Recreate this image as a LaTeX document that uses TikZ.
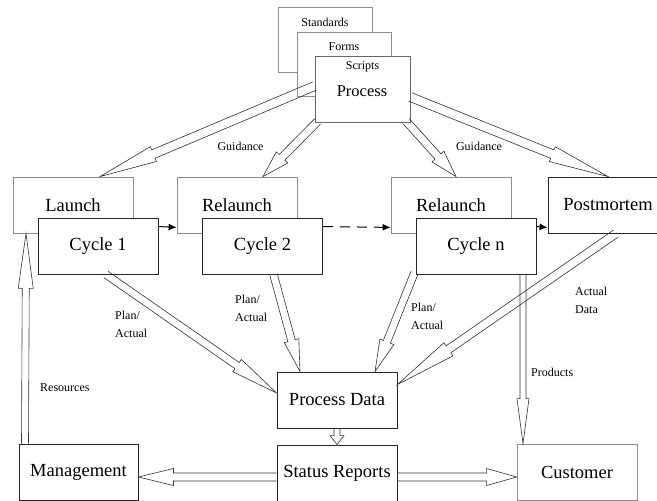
\documentclass[tikz,border=0pt]{standalone}
\usepackage{fontspec}
\setmainfont{Liberation Serif}
\usetikzlibrary{calc,arrows.meta}
\tikzset{
  lightbox/.style={draw=black!45, line width=0.8pt, fill=white, inner sep=0pt,
    minimum width=120pt, minimum height=56pt, font=\fontsize{18.5}{20}\selectfont},
  darkbox/.style={lightbox, draw=black!85, line width=0.9pt},
  smalltext/.style={font=\fontsize{12}{18}\selectfont, inner sep=0pt, align=left},
  harrow/.style={draw=black!80, line width=0.6pt, line join=miter},
  solidarr/.style={draw=black, line width=1pt, -{Latex[length=8pt,width=7pt]}},
}
% hollow double arrow: #1 from, #2 to, #3 half shaft, #4 half head, #5 head length
\newcommand\harr[5]{%
  \path (#2) coordinate (hT) ($(#2)!#5!(#1)$) coordinate (hB) (#1) coordinate (hS);
  \draw[harrow] ($(hS)!#3!90:(hT)$) -- ($(hB)!#3!-90:(hS)$) -- ($(hB)!#4!-90:(hS)$)
    -- (hT) -- ($(hB)!#4!90:(hS)$) -- ($(hB)!#3!90:(hS)$) -- ($(hS)!#3!-90:(hT)$);
}
\begin{document}
\begin{tikzpicture}[x=1pt,y=-1pt]
\useasboundingbox (0,0) rectangle (657,501);
\fill[white] (0,0) rectangle (657,501);

% document stack
\node[lightbox, minimum width=94pt, minimum height=65pt] (std) at (325,39.5) {};
\node[smalltext] (stdt) at (325,22) {Standards};
\node[lightbox, minimum width=94pt, minimum height=64pt] (frm) at (344,64) {};
\node[smalltext] (frmt) at (344,47) {Forms};
\node[lightbox, draw=black!60, minimum width=95pt, minimum height=66pt] (proc) at (362.5,89) {};
\node[smalltext] (scr) at (362.5,67) {Scripts};
\node[font=\fontsize{16.5}{18}\selectfont, inner sep=0pt] (proct) at (362,91) {Process};

% launch row
\node[lightbox] (launch) at (73,205) {Launch};
\node[lightbox] (rel1) at (237,205) {Relaunch};
\node[lightbox] (reln) at (451,205) {Relaunch};
\node[darkbox] (post) at (608,205) {Postmortem};
\node[darkbox] (cyc1) at (98,246) {Cycle 1};
\node[darkbox] (cyc2) at (262.5,246) {Cycle 2};
\node[darkbox] (cycn) at (476,246) {Cycle n};

% bottom
\node[darkbox] (pd) at (337,400) {Process Data};
\node[darkbox] (sr) at (337,473) {Status Reports};
\node[darkbox, minimum width=119pt] (mgmt) at (78.5,472) {Management};
\node[lightbox] (cust) at (577,472) {Customer};

% end points
\coordinate (g1s) at ($(proc.west)+(0,-3)$);
\coordinate (g1t) at ($(launch.north)+(27,0)$);
\coordinate (g2s) at ($(proc.south west)+(3,-1)$);
\coordinate (g2t) at ($(rel1.north)+(26,0)$);
\coordinate (g3s) at ($(proc.south east)+(-4,-1)$);
\coordinate (g3t) at ($(reln.north)+(5,0)$);
\coordinate (g4s) at ($(proc.east)+(0,8)$);
\coordinate (g4t) at (post.north);
\coordinate (p1s) at ($(cyc1.south)+(8,0)$);
\coordinate (p1t) at ($(pd.west)+(0,-7)$);
\coordinate (p2s) at ($(cyc2.south)+(11,0)$);
\coordinate (p2t) at ($(pd.north)+(-37,0)$);
\coordinate (p3s) at ($(cycn.south west)+(-1,-2)$);
\coordinate (p3t) at ($(pd.north)+(38,0)$);
\coordinate (ads) at ($(post.south)+(8,0)$);
\coordinate (adt) at ($(pd.north east)+(0,13)$);
\coordinate (prs) at ($(cycn.south)+(47,0)$);
\coordinate (prt) at ($(cust.north)+(-54,0)$);
\coordinate (rss) at ($(mgmt.north)+(-53.5,0)$);
\coordinate (rst) at ($(launch.south)+(-47,0)$);
\coordinate (sms) at ($(sr.west)+(0,4)$);
\coordinate (smt) at ($(mgmt.east)+(0,5)$);
\coordinate (scs) at ($(sr.east)+(0,4)$);
\coordinate (sct) at ($(cust.west)+(0,5)$);

% hollow arrows
\harr{g1s}{g1t}{4.5pt}{8pt}{58pt}
\harr{g2s}{g2t}{4pt}{8pt}{27pt}
\harr{g3s}{g3t}{4pt}{8pt}{27pt}
\harr{g4s}{g4t}{4.5pt}{8pt}{60pt}
\harr{p1s}{p1t}{3.8pt}{7.5pt}{48pt}
\harr{p2s}{p2t}{3.8pt}{7.5pt}{32pt}
\harr{p3s}{p3t}{3.8pt}{7.5pt}{32pt}
\harr{ads}{adt}{4.2pt}{8pt}{62pt}
\harr{prs}{prt}{3pt}{6pt}{45pt}
\harr{rss}{rst}{3.5pt}{7.5pt}{55pt}
\harr{pd.south}{sr.north}{3pt}{7pt}{9pt}
\harr{sms}{smt}{4pt}{8.5pt}{35pt}
\harr{scs}{sct}{4pt}{8.5pt}{30pt}

% solid arrows
\draw[solidarr] ($(cyc1.north east)+(0,9)$) -- ($(rel1.south west)+(0,-6)$);
\draw[solidarr, dash pattern=on 10pt off 7pt] ($(cyc2.north east)+(0,9)$) -- ($(reln.south west)+(0,-6)$);
\draw[solidarr] ($(cycn.north east)+(0,9)$) -- ($(post.south west)+(0,-6)$);

% labels
\node[smalltext] (gl1) at (240.5,146) {Guidance};
\node[smalltext] (gl2) at (479,146) {Guidance};
\node[smalltext, anchor=west] (pl1) at (115,324) {Plan/\\Actual};
\node[smalltext, anchor=west] (pl2) at (235,308) {Plan/\\Actual};
\node[smalltext, anchor=west] (pl3) at (411,316) {Plan/\\Actual};
\node[smalltext, anchor=west] (adl) at (575,300) {Actual\\Data};
\node[smalltext, anchor=west] (prl) at (531,372) {Products};
\node[smalltext, anchor=west] (rsl) at (40,388) {Resources};
\end{tikzpicture}
\end{document}
